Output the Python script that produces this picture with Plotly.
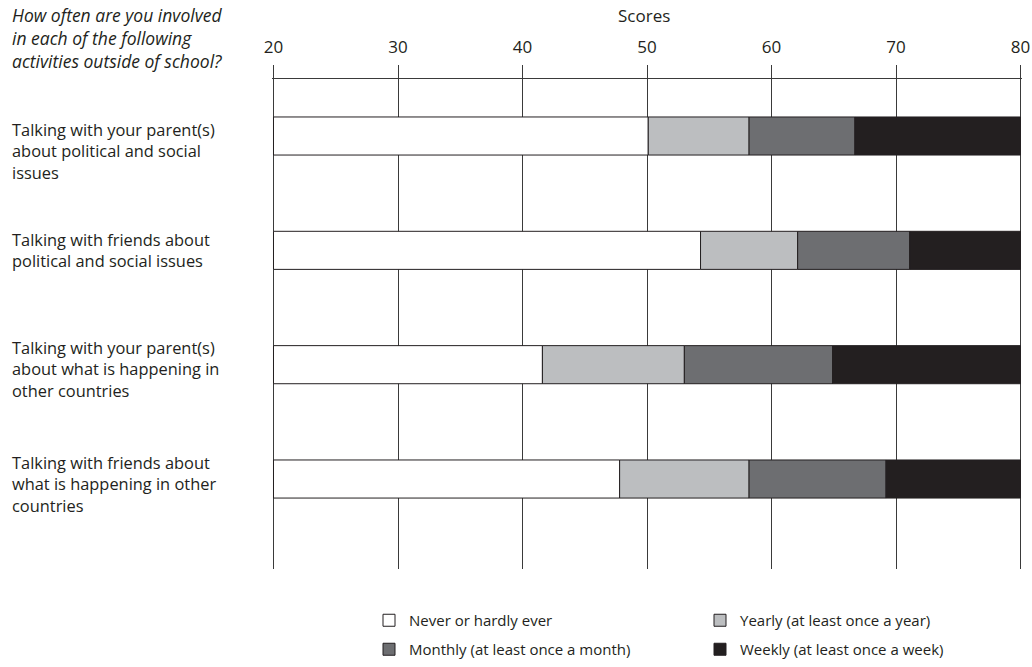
import plotly.graph_objects as go

categories = [
    "Talking with your parent(s)<br>about political and social<br>issues",
    "Talking with friends about<br>political and social issues",
    "Talking with your parent(s)<br>about what is happening in<br>other countries",
    "Talking with friends about<br>what is happening in other<br>countries",
]
# Score thresholds (right edge of each band); axis starts at 20, ends at 80
scale_min = 20
scale_max = 80
never_end = [50.1, 54.3, 41.6, 47.8]
yearly_end = [58.2, 62.1, 53.0, 58.2]
monthly_end = [66.7, 71.1, 64.9, 69.2]
weekly_end = [80, 80, 80, 80]
series_names = [
    "Never or hardly ever",
    "Yearly (at least once a year)",
    "Monthly (at least once a month)",
    "Weekly (at least once a week)",
]
tick_vals = [20, 30, 40, 50, 60, 70, 80]
question = "How often are you involved<br>in each of the following<br>activities outside of school?"
axis_title = "Scores"

colors = ["#ffffff", "#bcbec0", "#6d6e71", "#231f20"]
legend_ids = ["legend", "legend", "legend2", "legend2"]
INK = "#231f20"
FONT = "Open Sans"

W, H = 1032, 667
ML, MR = 272, 10
MT = 65
MB = H - 569
PW = W - ML - MR
PH = H - MT - MB

ypos = list(range(len(categories)))
starts = [[scale_min] * 4, never_end, yearly_end, monthly_end]
ends = [never_end, yearly_end, monthly_end, weekly_end]

fig = go.Figure()
for name, s, e, c, lg in zip(series_names, starts, ends, colors, legend_ids):
    fig.add_trace(go.Bar(
        y=ypos,
        x=[b - a for a, b in zip(s, e)],
        base=s,
        orientation="h",
        name=name,
        width=0.333,
        legend=lg,
        marker=dict(color=c, line=dict(color=INK, width=1)),
    ))

label_x = (10 - ML) / PW
label_shift = [-15, 0, -4, -5]
for i, (cat, sh) in enumerate(zip(categories, label_shift)):
    fig.add_annotation(
        x=label_x, xref="paper", y=i, yref="y",
        text=cat, showarrow=False, xanchor="left", yanchor="middle",
        align="left", yshift=sh,
        font=dict(family=FONT, size=16.4, color=INK),
    )

fig.add_annotation(
    x=label_x, xref="paper", y=1 + (MT - 38) / PH, yref="paper",
    text="<i>" + question + "</i>", showarrow=False,
    xanchor="left", yanchor="middle", align="left",
    font=dict(family=FONT, size=17.5, color=INK),
)
fig.add_annotation(
    x=(644 - ML) / PW, xref="paper", y=1 + (MT - 16) / PH, yref="paper",
    text=axis_title, showarrow=False, xanchor="center", yanchor="middle",
    font=dict(family=FONT, size=17, color=INK),
)

legend_common = dict(
    orientation="h", x=369 / W, xref="container", xanchor="left",
    yref="container", yanchor="top",
    entrywidth=286, entrywidthmode="pixels",
    font=dict(family=FONT, size=15, color=INK),
    traceorder="normal", bgcolor="rgba(0,0,0,0)",
)

fig.update_layout(
    width=W, height=H,
    margin=dict(l=ML, r=MR, t=MT, b=MB, autoexpand=False),
    paper_bgcolor="white", plot_bgcolor="white",
    barmode="overlay",
    showlegend=True,
    font=dict(family=FONT, color=INK),
    xaxis=dict(
        range=[scale_min - 0.12, scale_max + 0.12], side="top",
        tickvals=tick_vals, ticks="", ticklabelstandoff=8,
        tickfont=dict(family=FONT, size=17, color=INK),
        showgrid=True, gridcolor="#3a3a3a", gridwidth=1,
        zeroline=False, showline=False, automargin=False,
    ),
    yaxis=dict(
        range=[3.787, -0.621],
        tickvals=[-0.5], showticklabels=False, ticks="",
        showgrid=True, gridcolor="#3a3a3a", gridwidth=1,
        zeroline=False, showline=False, automargin=False,
    ),
    legend=dict(legend_common, y=1 - 604 / H),
    legend2=dict(legend_common, y=1 - 633 / H),
)

fig.write_html(
    "out.html",
    config={"displayModeBar": False},
    post_script="document.body.style.margin='0';",
)
